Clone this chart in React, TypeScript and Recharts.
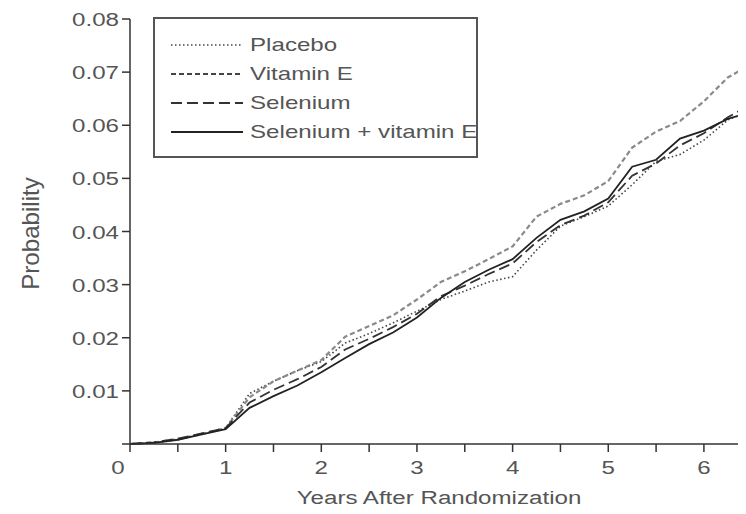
import { Legend, Line, LineChart, XAxis, YAxis } from 'recharts'

// Years after randomization (sampled every quarter year)
const years = [
  0, 0.25, 0.5, 0.75, 1, 1.25, 1.5, 1.75, 2, 2.25, 2.5, 2.75, 3, 3.25, 3.5, 3.75, 4, 4.25, 4.5, 4.75, 5,
  5.25, 5.5, 5.75, 6, 6.25, 6.5,
]

// Cumulative probability
const placebo = [
  0, 0.0002, 0.0008, 0.0018, 0.003, 0.0095, 0.0118, 0.0138, 0.0155, 0.019, 0.0208, 0.0228, 0.025, 0.0272,
  0.0288, 0.0305, 0.0315, 0.0365, 0.041, 0.0428, 0.0448, 0.0488, 0.0532, 0.0545, 0.0572, 0.061, 0.0628,
]
const vitaminE = [
  0, 0.0003, 0.0009, 0.0019, 0.003, 0.0088, 0.0118, 0.0138, 0.0158, 0.0202, 0.0222, 0.0242, 0.0272, 0.0305,
  0.0325, 0.0348, 0.0372, 0.0428, 0.0452, 0.0468, 0.0495, 0.0558, 0.0588, 0.0608, 0.0645, 0.069, 0.0715,
]
const selenium = [
  0, 0.0003, 0.001, 0.002, 0.003, 0.0078, 0.0102, 0.0122, 0.0145, 0.0178, 0.0198, 0.022, 0.0245, 0.0278,
  0.0298, 0.032, 0.034, 0.038, 0.0412, 0.043, 0.0455, 0.0505, 0.0528, 0.0562, 0.0585, 0.0615, 0.064,
]
const seleniumVitE = [
  0, 0.0002, 0.0008, 0.0018, 0.0028, 0.0068, 0.009, 0.011, 0.0135, 0.0162, 0.0188, 0.021, 0.0238, 0.0275,
  0.0305, 0.0328, 0.0348, 0.0388, 0.0422, 0.0438, 0.0462, 0.0522, 0.0535, 0.0575, 0.059, 0.0612, 0.0625,
]

const xTicks = [0, 0.5, 1, 1.5, 2, 2.5, 3, 3.5, 4, 4.5, 5, 5.5, 6]
const yTicks = [0, 0.01, 0.02, 0.03, 0.04, 0.05, 0.06, 0.07, 0.08]

const series = [
  { key: 'placebo', name: 'Placebo', color: '#444', legendColor: '#444', dash: '1.5 2.5', width: 1.6 },
  { key: 'vitaminE', name: 'Vitamin E', color: '#8a8a8a', legendColor: '#444', dash: '5 3', width: 2.2 },
  { key: 'selenium', name: 'Selenium', color: '#333', legendColor: '#333', dash: '11 5', width: 1.8 },
  { key: 'seleniumVitE', name: 'Selenium + vitamin E', color: '#222', legendColor: '#222', dash: undefined, width: 1.8 },
]

const data = years.map((year, i) => ({
  year,
  placebo: placebo[i],
  vitaminE: vitaminE[i],
  selenium: selenium[i],
  seleniumVitE: seleniumVitE[i],
}))

const textColor = '#555'
const axisColor = '#333'
const font = '"Liberation Sans", Arial, sans-serif'
const stretch = 1.27 // the source's lettering is wide

function XTick(props: any) {
  const { x, y, payload } = props
  const v = payload.value
  if (!Number.isInteger(v)) return null
  const dx = v === 0 ? -12 : 0
  return (
    <text
      transform={`translate(${x + dx}, ${y + 20}) scale(${stretch}, 1)`}
      textAnchor="middle"
      fill={textColor}
      fontSize={19}
      fontFamily={font}
    >
      {v}
    </text>
  )
}

function YTick(props: any) {
  const { x, y, payload } = props
  if (payload.value === 0) return null
  return (
    <text
      transform={`translate(${x - 1}, ${y + 7}) scale(${stretch}, 1)`}
      textAnchor="end"
      fill={textColor}
      fontSize={19}
      fontFamily={font}
    >
      {payload.value.toFixed(2)}
    </text>
  )
}

function LegendBox() {
  return (
    <div
      style={{
        border: '2px solid #555',
        boxSizing: 'border-box',
        width: 325,
        height: 141,
        padding: '11px 0 0 16px',
        fontFamily: font,
        fontSize: 19,
        color: textColor,
      }}
    >
      {series.map((s) => (
        <div key={s.key} style={{ display: 'flex', alignItems: 'center', height: 29 }}>
          <svg width={72} height={10} style={{ marginRight: 7 }}>
            <line x1={0} y1={5} x2={72} y2={5} stroke={s.legendColor} strokeWidth={s.width} strokeDasharray={s.dash} />
          </svg>
          <span style={{ display: 'inline-block', transform: `scaleX(${stretch})`, transformOrigin: 'left center', whiteSpace: 'nowrap' }}>
            {s.name}
          </span>
        </div>
      ))}
    </div>
  )
}

export default function App() {
  return (
    <LineChart width={738} height={506} data={data} margin={{ top: 11, right: 0, left: 0, bottom: 0 }}>
      <XAxis
        dataKey="year"
        type="number"
        domain={[0, 6.44]}
        allowDataOverflow
        ticks={xTicks}
        interval={0}
        height={70}
        tickSize={8}
        tick={<XTick />}
        stroke={axisColor}
        strokeWidth={1.5}
        label={{
          content: (p: any) => {
            const vb = p.viewBox
            const cx = vb.x + vb.width / 2 + 1
            const cy = vb.y + 60
            return (
              <text
                transform={`translate(${cx}, ${cy}) scale(${stretch}, 1)`}
                textAnchor="middle"
                fill={textColor}
                fontSize={19}
                fontFamily={font}
              >
                Years After Randomization
              </text>
            )
          },
        }}
      />
      <YAxis
        type="number"
        domain={[0, 0.08]}
        ticks={yTicks}
        interval={0}
        width={122}
        tickSize={8}
        tick={<YTick />}
        stroke={axisColor}
        strokeWidth={1.5}
        label={{
          content: (p: any) => {
            const vb = p.viewBox
            const cx = vb.x + 22
            const cy = vb.y + vb.height / 2 + 2
            return (
              <text
                transform={`translate(${cx}, ${cy}) rotate(-90) scale(1.27, ${stretch})`}
                textAnchor="middle"
                dominantBaseline="central"
                fill={textColor}
                fontSize={19}
                fontFamily={font}
              >
                Probability
              </text>
            )
          },
        }}
      />
      <Legend
        layout="vertical"
        verticalAlign="middle"
        align="center"
        content={() => <LegendBox />}
        wrapperStyle={{ left: 145, top: 9, width: 325, height: 141 }}
      />
      {series.map((s) => (
        <Line
          key={s.key}
          dataKey={s.key}
          name={s.name}
          type="linear"
          stroke={s.color}
          strokeWidth={s.width}
          strokeDasharray={s.dash}
          dot={false}
          isAnimationActive={false}
        />
      ))}
    </LineChart>
  )
}
